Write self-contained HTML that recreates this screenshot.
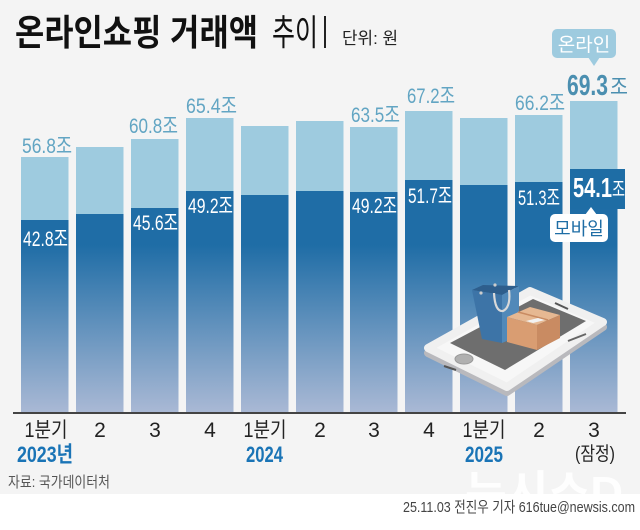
<!DOCTYPE html>
<html><head><meta charset="utf-8">
<style>
html,body{margin:0;padding:0;background:#fff;}
svg{display:block;}
text{font-family:"Liberation Sans","Noto Sans CJK KR",sans-serif;}
</style></head>
<body>
<svg width="640" height="530" viewBox="0 0 640 530" xmlns="http://www.w3.org/2000/svg">
<defs>
<linearGradient id="dg" gradientUnits="userSpaceOnUse" x1="0" y1="245" x2="0" y2="413">
<stop offset="0" stop-color="#1f6da6"/>
<stop offset="1" stop-color="#aab9d5"/>
</linearGradient>
</defs>
<rect x="0" y="0" width="640" height="494" fill="#f4f4f4"/>
<rect x="0" y="494" width="640" height="36" fill="#ffffff"/>

<!-- title -->
<text x="15" y="45" font-size="36" font-weight="bold" fill="#111" textLength="243" lengthAdjust="spacingAndGlyphs">온라인쇼핑 거래액</text>
<text x="272" y="45" font-size="36" fill="#111" textLength="46" lengthAdjust="spacingAndGlyphs">추이</text>
<rect x="324" y="16" width="2" height="32" fill="#222"/>
<text x="342" y="44" font-size="17" fill="#222" textLength="56" lengthAdjust="spacingAndGlyphs">단위: 원</text>

<!-- light (online) bars -->
<g fill="#9ecbdf">
<rect x="21" y="157" width="47.5" height="256"/>
<rect x="76" y="147" width="47.5" height="266"/>
<rect x="131" y="139" width="47.5" height="274"/>
<rect x="186" y="118" width="47.5" height="295"/>
<rect x="241" y="126" width="47.5" height="287"/>
<rect x="296" y="121" width="47.5" height="292"/>
<rect x="350" y="127" width="47.5" height="286"/>
<rect x="405" y="111" width="47.5" height="302"/>
<rect x="460" y="118" width="47.5" height="295"/>
<rect x="515" y="115" width="47.5" height="298"/>
<rect x="570" y="101" width="47.5" height="312"/>
</g>
<!-- dark (mobile) bars -->
<g fill="url(#dg)">
<rect x="21" y="220" width="47.5" height="193"/>
<rect x="76" y="214" width="47.5" height="199"/>
<rect x="131" y="208" width="47.5" height="205"/>
<rect x="186" y="191" width="47.5" height="222"/>
<rect x="241" y="195" width="47.5" height="218"/>
<rect x="296" y="191" width="47.5" height="222"/>
<rect x="350" y="192" width="47.5" height="221"/>
<rect x="405" y="180" width="47.5" height="233"/>
<rect x="460" y="185" width="47.5" height="228"/>
<rect x="515" y="182" width="47.5" height="231"/>
<rect x="570" y="169" width="47.5" height="244"/>
</g>
<rect x="570" y="169" width="55" height="40" fill="#1e6da5"/>

<!-- top labels -->
<g font-size="21" fill="#62a5c3">
<text x="22" y="153" textLength="50" lengthAdjust="spacingAndGlyphs">56.8조</text>
<text x="129" y="133" textLength="49" lengthAdjust="spacingAndGlyphs">60.8조</text>
<text x="186" y="113" textLength="51" lengthAdjust="spacingAndGlyphs">65.4조</text>
<text x="351" y="122" textLength="49" lengthAdjust="spacingAndGlyphs">63.5조</text>
<text x="407" y="103" textLength="48" lengthAdjust="spacingAndGlyphs">67.2조</text>
<text x="515" y="110" textLength="50" lengthAdjust="spacingAndGlyphs">66.2조</text>
</g>
<!-- mobile labels -->
<g font-size="21" fill="#ffffff">
<text x="23" y="246" textLength="45" lengthAdjust="spacingAndGlyphs">42.8조</text>
<text x="133" y="230" textLength="45" lengthAdjust="spacingAndGlyphs">45.6조</text>
<text x="188" y="213" textLength="45" lengthAdjust="spacingAndGlyphs">49.2조</text>
<text x="352" y="213" textLength="45" lengthAdjust="spacingAndGlyphs">49.2조</text>
<text x="408" y="203" textLength="44" lengthAdjust="spacingAndGlyphs">51.7조</text>
<text x="518" y="205" textLength="42" lengthAdjust="spacingAndGlyphs">51.3조</text>
</g>
<text x="573" y="197" font-size="28" font-weight="bold" fill="#fff" textLength="39" lengthAdjust="spacingAndGlyphs">54.1</text>
<text x="612" y="196" font-size="20" fill="#fff" textLength="13" lengthAdjust="spacingAndGlyphs">조</text>

<!-- 69.3 -->
<text x="567" y="95" font-size="29" font-weight="bold" fill="#4b8fb0" textLength="41" lengthAdjust="spacingAndGlyphs">69.3</text>
<text x="610" y="94" font-size="21" fill="#4b8fb0" textLength="18" lengthAdjust="spacingAndGlyphs">조</text>

<!-- online bubble -->
<rect x="552" y="29" width="64" height="29" rx="5" fill="#9ecbdf"/>
<polygon points="588,57 600,57 594,66" fill="#9ecbdf"/>
<text x="584" y="51" font-size="19" fill="#fff" text-anchor="middle">온라인</text>

<!-- mobile bubble -->
<rect x="550" y="214" width="58" height="28" rx="5" fill="#fff"/>
<polygon points="585,215 597,215 591,207" fill="#fff"/>
<text x="579" y="235" font-size="18" fill="#1e6da5" text-anchor="middle">모바일</text>

<!-- phone illustration -->
<g stroke-linejoin="round">
<polygon points="428,353 530,296 603,327 507,392" fill="#b9b9bd" stroke="#b9b9bd" stroke-width="8"/>
<polygon points="428,348 530,291 603,322 507,387" fill="#f7f7f7" stroke="#f0f0f0" stroke-width="8"/>
<polygon points="450,343 533,299 586,321 505,370" fill="#6e6e6e"/>
<ellipse cx="464" cy="359" rx="9" ry="5" fill="#b0b0b0" stroke="#999" stroke-width="1"/>
<line x1="555" y1="303" x2="568" y2="309" stroke="#555" stroke-width="2"/>
<line x1="444" y1="366" x2="456" y2="370" stroke="#555" stroke-width="2"/>
<line x1="568" y1="341" x2="586" y2="334" stroke="#666" stroke-width="2"/>
<!-- bag -->
<polygon points="472,290 483,285 519,286 502,295" fill="#2e5e8c"/>
<polygon points="502,295 519,286 519,336 502,343" fill="#5189b9"/>
<polygon points="472,290 502,295 502,343 482,339" fill="#3d74a7"/>
<path d="M494,293 Q495,312 503,311 Q511,307 509,290" fill="none" stroke="#d9d9d9" stroke-width="2.2"/>
<circle cx="481" cy="293" r="1.6" fill="#ccc"/>
<circle cx="495" cy="285" r="1.6" fill="#ccc"/>
<!-- box -->
<polygon points="507,317 530,307 560,315 537,325" fill="#e6b892"/>
<polygon points="507,317 537,325 537,350 507,342" fill="#d99d72"/>
<polygon points="537,325 560,315 560,338 537,350" fill="#c98b62"/>
<line x1="518" y1="312" x2="548" y2="320" stroke="#c98b62" stroke-width="1.5"/>
<polygon points="526,321 538,318 545,320 533,323" fill="#f2f2f2"/>
</g>

<!-- axis -->
<rect x="13" y="412" width="613" height="2" fill="#444"/>

<!-- x labels -->
<g font-size="21" fill="#222" text-anchor="middle">
<text x="46" y="437" textLength="43" lengthAdjust="spacingAndGlyphs">1분기</text>
<text x="100" y="437">2</text>
<text x="155" y="437">3</text>
<text x="210" y="437">4</text>
<text x="265" y="437" textLength="43" lengthAdjust="spacingAndGlyphs">1분기</text>
<text x="320" y="437">2</text>
<text x="374" y="437">3</text>
<text x="429" y="437">4</text>
<text x="484" y="437" textLength="43" lengthAdjust="spacingAndGlyphs">1분기</text>
<text x="539" y="437">2</text>
<text x="594" y="437">3</text>
</g>
<g font-size="22" font-weight="bold" fill="#1a74b6">
<text x="17" y="462" textLength="56" lengthAdjust="spacingAndGlyphs">2023년</text>
<text x="246" y="462" textLength="37" lengthAdjust="spacingAndGlyphs">2024</text>
<text x="465" y="462" textLength="38" lengthAdjust="spacingAndGlyphs">2025</text>
</g>
<text x="575" y="460" font-size="19" fill="#222" textLength="40" lengthAdjust="spacingAndGlyphs">(잠정)</text>

<text x="8" y="487" font-size="15" fill="#555" textLength="102" lengthAdjust="spacingAndGlyphs">자료: 국가데이터처</text>

<!-- watermark -->
<text x="465" y="507" font-size="44" font-weight="bold" fill="#ffffff" fill-opacity="0.85" textLength="158" lengthAdjust="spacingAndGlyphs">뉴시스D</text>

<text x="403" y="512" font-size="15" fill="#444" textLength="232" lengthAdjust="spacingAndGlyphs">25.11.03 전진우 기자 616tue@newsis.com</text>
</svg>
</body></html>
